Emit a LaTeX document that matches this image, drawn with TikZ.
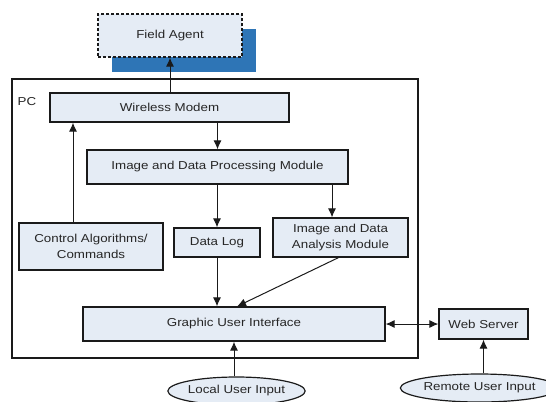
\documentclass[tikz,border=0pt]{standalone}
\usepackage{fontspec}
\setmainfont{Liberation Sans}[FakeStretch=1.16]
\usetikzlibrary{arrows.meta,shapes.geometric}
\definecolor{boxfill}{HTML}{E5ECF5}
\definecolor{agentblue}{HTML}{2E75B6}
\definecolor{inktext}{HTML}{262626}
\definecolor{inkline}{HTML}{1A1A1A}
\tikzset{
  blockbox/.style={draw=inkline, line width=1.2pt, fill=boxfill, inner sep=0pt,
    text=inktext, align=center, font=\fontsize{11.5bp}{16bp}\selectfont},
  inputoval/.style={blockbox, ellipse},
  tipshape/.style={},
  arr/.style={draw=inkline, line width=1pt, -{Latex[length=9bp,width=8bp]}},
  dblarr/.style={draw=inkline, line width=1pt, {Latex[length=9bp,width=8bp]}-{Latex[length=9bp,width=8bp]}},
}
\begin{document}
\begin{tikzpicture}[x=1bp, y=-1bp]
\useasboundingbox (0,0) rectangle (546,401);

% PC enclosure and its label
\draw[inkline, line width=1.2pt] (12,79) rectangle (418,358);
\node[text=inktext, font=\fontsize{11.5bp}{14bp}\selectfont] (pclabel) at (27,102) {PC};

% Field agent with its solid blue offset backing
\fill[agentblue] (112,29) rectangle (256,72);
\node[blockbox, dashed, dash pattern=on 3bp off 2bp, minimum width=144bp, minimum height=43bp]
  (fa) at (170,35.5) {Field Agent};

% Blocks inside the PC
\node[blockbox, minimum width=239bp, minimum height=29bp] (wm) at (169.5,107.5) {Wireless Modem};
\node[blockbox, minimum width=261bp, minimum height=34bp] (idpm) at (217.5,167) {Image and Data Processing Module};
\node[blockbox, minimum width=144bp, minimum height=47bp] (ctrl) at (91,246.5) {Control Algorithms/\\Commands};
\node[blockbox, minimum width=86bp, minimum height=29bp] (dlog) at (217,242.5) {Data Log};
\node[blockbox, minimum width=135bp, minimum height=39bp] (ana) at (340.5,237.5) {Image and Data\\Analysis Module};
\node[blockbox, minimum width=302bp, minimum height=34bp] (gui) at (234,324) {Graphic User Interface};

% Outside the PC
\node[blockbox, minimum width=89bp, minimum height=30bp] (web) at (483.5,324) {Web Server};
\node[inputoval, minimum width=131bp, minimum height=28bp] (local) at (236.5,391) {Local User Input};
\node[inputoval, minimum width=137bp, minimum height=28bp] (remote) at (479.5,388) {Remote User Input};

% Connectors
\draw[arr] (wm.north -| fa.south) -- (fa.south);
\draw[arr] (wm.south -| idpm.north) -- (idpm.north);
\draw[arr] ([xshift=-18bp]ctrl.north) -- ([xshift=-18bp]ctrl.north |- wm.south);
\draw[arr] (idpm.south -| dlog.north) -- (dlog.north);
\draw[arr] ([xshift=-8.5bp]ana.north |- idpm.south) -- ([xshift=-8.5bp]ana.north);
\draw[arr] (dlog.south) -- (dlog.south |- gui.north);
\draw[arr] ([xshift=-2bp]ana.south) -- ([xshift=3bp]gui.north);
\draw[arr] ([xshift=-2.5bp]local.north) -- ([xshift=-2.5bp]local.north |- gui.south);
\draw[dblarr] (gui.east) -- (web.west);
\draw[arr] (web.south |- remote.north) -- (web.south);
\end{tikzpicture}
\end{document}
